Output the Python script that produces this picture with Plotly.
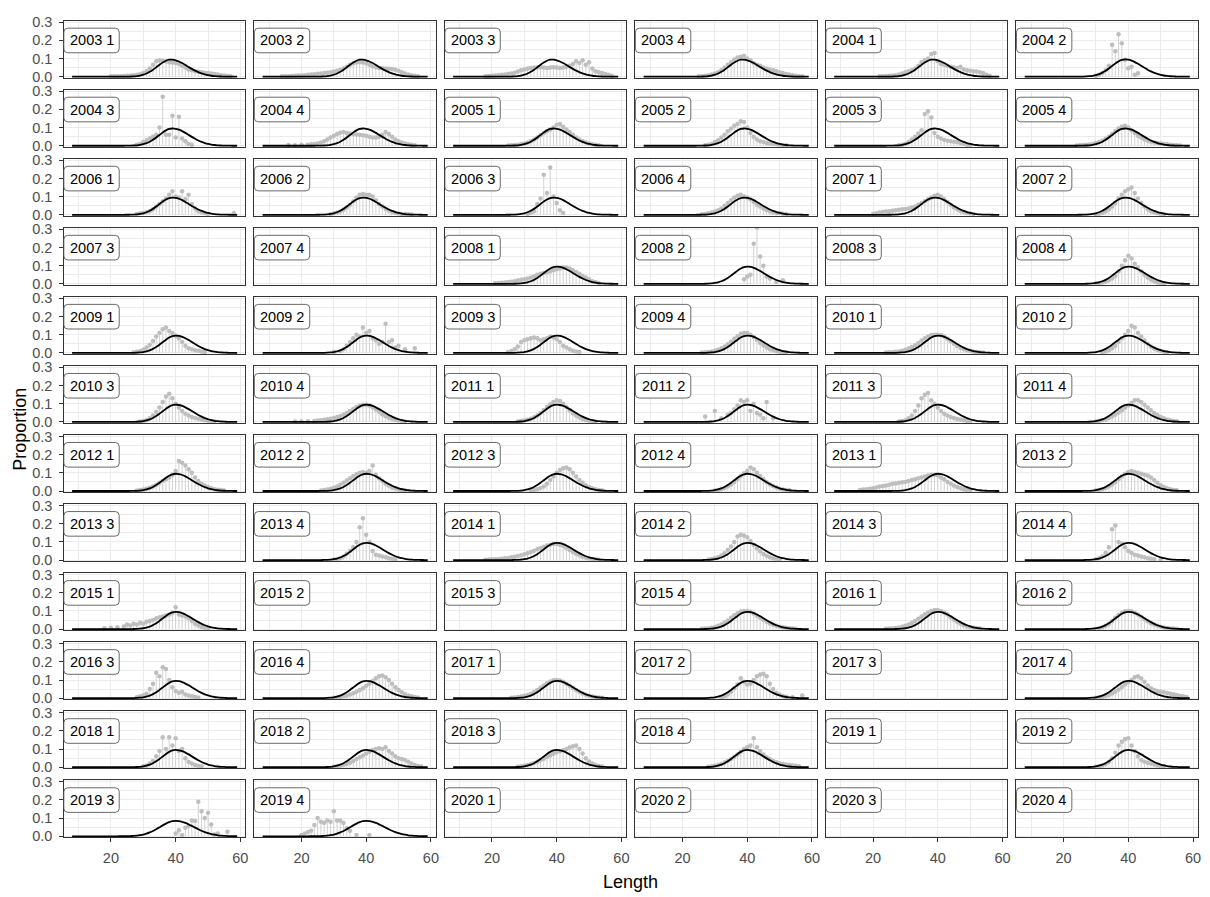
import plotly.graph_objects as go

# ---------------- data ----------------
YEARS = list(range(2003, 2021))
QUARTERS = [1, 2, 3, 4]
PANELS = [f"{y} {q}" for y in YEARS for q in QUARTERS]

X_TICKS = [20, 40, 60]
Y_TICKS = [0.0, 0.1, 0.2, 0.3]
Y_TICK_TEXT = ["0.0", "0.1", "0.2", "0.3"]
X_TITLE = "Length"
Y_TITLE = "Proportion"

# fitted curves, values at lengths 8..59
fit_len = list(range(8, 60))
fit_38 = [0]*16 + [0.0002, 0.0004, 0.0009, 0.0018, 0.0035, 0.0064, 0.011, 0.0176, 0.0268, 0.0382,
                   0.0515, 0.0653, 0.078, 0.0879, 0.0933, 0.0936, 0.0902, 0.0837, 0.075, 0.0647,
                   0.0537, 0.043, 0.0332, 0.0247, 0.0177, 0.0122, 0.0081, 0.0052, 0.0032, 0.0019,
                   0.0011, 0.0006, 0.0003, 0.0002, 0.0001, 0.0]
fit_39 = [0]*16 + [0.0001, 0.0003, 0.0006, 0.0013, 0.0026, 0.0049, 0.0085, 0.0142, 0.0221, 0.0326,
                   0.0452, 0.059, 0.0727, 0.0844, 0.0922, 0.095, 0.0933, 0.0882, 0.0804, 0.0707,
                   0.0598, 0.0488, 0.0384, 0.0291, 0.0212, 0.015, 0.0101, 0.0066, 0.0042, 0.0025,
                   0.0015, 0.0008, 0.0005, 0.0002, 0.0001, 0.0]
fit_40 = [0]*17 + [0.0001, 0.0003, 0.0006, 0.0013, 0.0026, 0.0049, 0.0085, 0.0142, 0.0221, 0.0326,
                   0.0452, 0.059, 0.0727, 0.0844, 0.0922, 0.095, 0.0933, 0.0882, 0.0804, 0.0707,
                   0.0598, 0.0488, 0.0384, 0.0291, 0.0212, 0.015, 0.0101, 0.0066, 0.0042, 0.0025,
                   0.0015, 0.0008, 0.0005, 0.0002, 0.0001]
fit_2019 = [0]*14 + [0.0001, 0.0002, 0.0003, 0.0006, 0.0012, 0.0022, 0.0037, 0.0062, 0.0097, 0.0147,
                     0.0212, 0.0294, 0.0389, 0.0494, 0.0601, 0.0699, 0.0779, 0.0832, 0.085, 0.0837,
                     0.0797, 0.0736, 0.0659, 0.0571, 0.0479, 0.0389, 0.0306, 0.0234, 0.0173, 0.0123,
                     0.0086, 0.0057, 0.0037, 0.0024, 0.0014, 0.0009, 0.0005, 0.0003]

FIT_38_PANELS = ["2003 1", "2003 2", "2003 3", "2003 4", "2004 1"]
FIT_39_PANELS = ["2004 2", "2004 3", "2004 4", "2005 1", "2005 2", "2005 3", "2005 4",
                 "2006 1", "2006 2", "2006 3", "2006 4", "2007 1", "2007 2"]
FIT_2019_PANELS = ["2019 3", "2019 4"]

# observed proportions at length (length: proportion)
obs_2003_1 = {20: 0.002, 21: 0.002, 22: 0.003, 23: 0.003, 24: 0.004, 25: 0.005, 26: 0.006, 27: 0.008, 28: 0.01, 29: 0.014,
              30: 0.02, 31: 0.03, 32: 0.045, 33: 0.065, 34: 0.085, 35: 0.09, 36: 0.088, 37: 0.085, 38: 0.08, 39: 0.078,
              40: 0.075, 41: 0.07, 42: 0.06, 43: 0.05, 44: 0.04, 45: 0.035, 46: 0.03, 47: 0.027, 48: 0.024, 49: 0.022,
              50: 0.02, 51: 0.018, 52: 0.015, 53: 0.012, 54: 0.008, 55: 0.006, 56: 0.004, 57: 0.002}
obs_2003_2 = {14: 0.002, 15: 0.002, 16: 0.003, 17: 0.004, 18: 0.005, 19: 0.006, 20: 0.007, 21: 0.008, 22: 0.01, 23: 0.012,
              24: 0.014, 25: 0.016, 26: 0.018, 27: 0.02, 28: 0.022, 29: 0.025, 30: 0.028, 31: 0.032, 32: 0.038, 33: 0.045,
              34: 0.055, 35: 0.065, 36: 0.072, 37: 0.078, 38: 0.08, 39: 0.078, 40: 0.072, 41: 0.065, 42: 0.058, 43: 0.052,
              44: 0.048, 45: 0.046, 46: 0.045, 47: 0.044, 48: 0.042, 49: 0.038, 50: 0.032, 51: 0.025, 52: 0.018, 53: 0.012,
              54: 0.008, 55: 0.005, 56: 0.003}
obs_2003_3 = {18: 0.003, 19: 0.004, 20: 0.005, 21: 0.006, 22: 0.008, 23: 0.01, 24: 0.012, 25: 0.015, 26: 0.018, 27: 0.022,
              28: 0.028, 29: 0.035, 30: 0.04, 31: 0.045, 32: 0.048, 33: 0.05, 34: 0.05, 35: 0.052, 36: 0.05, 37: 0.048,
              38: 0.05, 39: 0.052, 40: 0.05, 41: 0.048, 42: 0.05, 43: 0.055, 44: 0.06, 45: 0.07, 46: 0.085, 47: 0.075,
              48: 0.09, 49: 0.065, 50: 0.08, 51: 0.045, 52: 0.03, 53: 0.025, 54: 0.02, 55: 0.015, 56: 0.01, 57: 0.005}
obs_2003_4 = {25: 0.002, 26: 0.003, 27: 0.005, 28: 0.008, 29: 0.012, 30: 0.018, 31: 0.025, 32: 0.035, 33: 0.05, 34: 0.065,
              35: 0.08, 36: 0.095, 37: 0.105, 38: 0.11, 39: 0.115, 40: 0.1, 41: 0.09, 42: 0.075, 43: 0.065, 44: 0.06,
              45: 0.05, 46: 0.045, 47: 0.04, 48: 0.035, 49: 0.03, 50: 0.025, 51: 0.02, 52: 0.015, 53: 0.012, 54: 0.008,
              55: 0.005, 56: 0.003, 57: 0.002}
obs_2004_1 = {22: 0.002, 23: 0.003, 24: 0.004, 25: 0.005, 26: 0.006, 27: 0.008, 28: 0.012, 29: 0.018, 30: 0.025, 31: 0.03,
              32: 0.035, 33: 0.045, 34: 0.06, 35: 0.08, 36: 0.09, 37: 0.1, 38: 0.125, 39: 0.13, 40: 0.085, 41: 0.07,
              42: 0.065, 43: 0.06, 44: 0.055, 45: 0.05, 46: 0.048, 47: 0.055, 48: 0.04, 49: 0.035, 50: 0.032, 51: 0.03,
              52: 0.028, 53: 0.025, 54: 0.02, 55: 0.01, 56: 0.005}
obs_2004_2 = {30: 0.005, 31: 0.01, 32: 0.02, 33: 0.035, 34: 0.06, 35: 0.175, 36: 0.14, 37: 0.233, 38: 0.184, 39: 0.093,
              40: 0.046, 41: 0.055, 42: 0.01, 43: 0.019}
obs_2004_3 = {28: 0.005, 29: 0.01, 30: 0.02, 31: 0.03, 32: 0.04, 33: 0.05, 34: 0.06, 35: 0.1, 36: 0.27, 37: 0.06,
              38: 0.06, 39: 0.165, 40: 0.045, 41: 0.16, 42: 0.04, 43: 0.025, 44: 0.01, 45: 0.005}
obs_2004_4 = {16: 0.004, 18: 0.003, 20: 0.005, 22: 0.006, 23: 0.008, 24: 0.01, 25: 0.013, 26: 0.018, 27: 0.025, 28: 0.035,
              29: 0.045, 30: 0.055, 31: 0.065, 32: 0.072, 33: 0.075, 34: 0.07, 35: 0.068, 36: 0.065, 37: 0.062, 38: 0.06,
              39: 0.058, 40: 0.055, 41: 0.05, 42: 0.045, 43: 0.045, 44: 0.05, 45: 0.06, 46: 0.075, 47: 0.065, 48: 0.05,
              49: 0.035, 50: 0.025, 51: 0.018, 52: 0.012, 53: 0.008, 54: 0.005, 55: 0.003}
obs_2005_1 = {25: 0.002, 26: 0.003, 27: 0.004, 28: 0.006, 29: 0.009, 30: 0.013, 31: 0.018, 32: 0.025, 33: 0.035, 34: 0.045,
              35: 0.058, 36: 0.07, 37: 0.08, 38: 0.09, 39: 0.1, 40: 0.115, 41: 0.12, 42: 0.105, 43: 0.09, 44: 0.075,
              45: 0.06, 46: 0.045, 47: 0.035, 48: 0.025, 49: 0.018, 50: 0.012, 51: 0.008, 52: 0.005, 53: 0.003}
obs_2005_2 = {27: 0.003, 28: 0.005, 29: 0.01, 30: 0.02, 31: 0.03, 32: 0.045, 33: 0.06, 34: 0.08, 35: 0.095, 36: 0.11,
              37: 0.12, 38: 0.135, 39: 0.13, 40: 0.1, 41: 0.07, 42: 0.05, 43: 0.035, 44: 0.025, 45: 0.02, 46: 0.015,
              47: 0.012, 48: 0.01, 49: 0.008, 50: 0.006, 51: 0.004, 52: 0.003}
obs_2005_3 = {28: 0.003, 29: 0.005, 30: 0.01, 31: 0.02, 32: 0.035, 33: 0.05, 34: 0.067, 35: 0.085, 36: 0.175, 37: 0.19,
              38: 0.155, 39: 0.07, 40: 0.05, 41: 0.04, 42: 0.032, 43: 0.028, 44: 0.025, 45: 0.022, 46: 0.02, 47: 0.015,
              48: 0.01, 49: 0.006, 50: 0.004}
obs_2005_4 = {24: 0.002, 25: 0.003, 26: 0.004, 27: 0.005, 28: 0.007, 29: 0.01, 30: 0.015, 31: 0.02, 32: 0.028, 33: 0.038,
              34: 0.05, 35: 0.065, 36: 0.08, 37: 0.095, 38: 0.105, 39: 0.11, 40: 0.1, 41: 0.085, 42: 0.07, 43: 0.055,
              44: 0.045, 45: 0.035, 46: 0.028, 47: 0.022, 48: 0.018, 49: 0.015, 50: 0.012, 51: 0.01, 52: 0.008, 53: 0.006,
              54: 0.004, 55: 0.003, 56: 0.002}
obs_2006_1 = {28: 0.005, 29: 0.008, 30: 0.01, 31: 0.015, 32: 0.02, 33: 0.03, 34: 0.045, 35: 0.06, 36: 0.075, 37: 0.09,
              38: 0.11, 39: 0.13, 40: 0.1, 41: 0.095, 42: 0.13, 43: 0.085, 44: 0.11, 45: 0.06, 46: 0.035, 47: 0.02,
              48: 0.012, 49: 0.008, 50: 0.005, 58: 0.008}
obs_2006_2 = {29: 0.003, 30: 0.008, 31: 0.012, 32: 0.018, 33: 0.028, 34: 0.04, 35: 0.055, 36: 0.075, 37: 0.095, 38: 0.11,
              39: 0.115, 40: 0.11, 41: 0.11, 42: 0.1, 43: 0.08, 44: 0.06, 45: 0.045, 46: 0.032, 47: 0.022, 48: 0.015,
              49: 0.01, 50: 0.007, 51: 0.005, 52: 0.004, 53: 0.003, 54: 0.002}
obs_2006_3 = {31: 0.005, 32: 0.01, 33: 0.02, 34: 0.06, 35: 0.09, 36: 0.22, 37: 0.12, 38: 0.26, 39: 0.1, 40: 0.065,
              41: 0.025, 42: 0.01}
obs_2006_4 = {26: 0.003, 27: 0.005, 28: 0.008, 29: 0.012, 30: 0.018, 31: 0.025, 32: 0.035, 33: 0.05, 34: 0.065, 35: 0.08,
              36: 0.095, 37: 0.105, 38: 0.11, 39: 0.1, 40: 0.095, 41: 0.085, 42: 0.07, 43: 0.055, 44: 0.045, 45: 0.035,
              46: 0.025, 47: 0.018, 48: 0.012, 49: 0.008, 50: 0.01, 51: 0.006, 52: 0.004}
obs_2007_1 = {20: 0.005, 21: 0.008, 22: 0.012, 23: 0.015, 24: 0.018, 25: 0.02, 26: 0.022, 27: 0.025, 28: 0.028, 29: 0.03,
              30: 0.032, 31: 0.035, 32: 0.04, 33: 0.045, 34: 0.055, 35: 0.065, 36: 0.075, 37: 0.085, 38: 0.095, 39: 0.105,
              40: 0.11, 41: 0.1, 42: 0.085, 43: 0.07, 44: 0.055, 45: 0.04, 46: 0.03, 47: 0.02, 48: 0.015, 49: 0.01,
              50: 0.007, 51: 0.005}
obs_2007_2 = {30: 0.003, 31: 0.006, 32: 0.01, 33: 0.018, 34: 0.03, 35: 0.045, 36: 0.065, 37: 0.09, 38: 0.11, 39: 0.13,
              40: 0.14, 41: 0.15, 42: 0.12, 43: 0.09, 44: 0.065, 45: 0.045, 46: 0.03, 47: 0.02, 48: 0.012, 49: 0.008,
              50: 0.005, 51: 0.003}
obs_2008_1 = {21: 0.003, 22: 0.005, 23: 0.006, 24: 0.008, 25: 0.01, 26: 0.012, 27: 0.015, 28: 0.018, 29: 0.022, 30: 0.026,
              31: 0.03, 32: 0.035, 33: 0.04, 34: 0.05, 35: 0.055, 36: 0.06, 37: 0.065, 38: 0.07, 39: 0.075, 40: 0.08,
              41: 0.085, 42: 0.09, 43: 0.09, 44: 0.085, 45: 0.075, 46: 0.065, 47: 0.055, 48: 0.045, 49: 0.035, 50: 0.025,
              51: 0.015, 52: 0.01, 53: 0.005}
obs_2008_2 = {39: 0.025, 40: 0.04, 41: 0.05, 42: 0.22, 43: 0.31, 44: 0.15, 45: 0.1, 46: 0.04, 47: 0.03, 49: 0.01,
              51: 0.02}
obs_2008_4 = {30: 0.003, 31: 0.005, 32: 0.008, 33: 0.013, 34: 0.02, 35: 0.03, 36: 0.045, 37: 0.07, 38: 0.1, 39: 0.13,
              40: 0.155, 41: 0.14, 42: 0.11, 43: 0.09, 44: 0.07, 45: 0.05, 46: 0.035, 47: 0.022, 48: 0.014, 49: 0.008,
              50: 0.005, 51: 0.003}
obs_2009_1 = {27: 0.003, 28: 0.006, 29: 0.01, 30: 0.018, 31: 0.03, 32: 0.045, 33: 0.065, 34: 0.09, 35: 0.11, 36: 0.13,
              37: 0.14, 38: 0.12, 39: 0.11, 40: 0.095, 41: 0.08, 42: 0.06, 43: 0.04, 44: 0.025, 45: 0.02, 46: 0.015,
              47: 0.012, 48: 0.008, 49: 0.005}
obs_2009_2 = {30: 0.005, 32: 0.01, 33: 0.02, 34: 0.04, 35: 0.06, 36: 0.08, 37: 0.1, 38: 0.09, 39: 0.14, 40: 0.11,
              41: 0.12, 42: 0.08, 43: 0.07, 44: 0.05, 45: 0.06, 46: 0.16, 47: 0.06, 48: 0.07, 49: 0.03, 50: 0.04,
              52: 0.02, 55: 0.025}
obs_2009_3 = {25: 0.005, 26: 0.01, 27: 0.02, 28: 0.035, 29: 0.06, 30: 0.07, 31: 0.075, 32: 0.08, 33: 0.085, 34: 0.08,
              35: 0.07, 36: 0.075, 37: 0.08, 38: 0.09, 39: 0.085, 40: 0.075, 41: 0.06, 42: 0.04, 43: 0.03, 44: 0.02,
              45: 0.012, 46: 0.008, 47: 0.005}
obs_2009_4 = {26: 0.002, 27: 0.003, 28: 0.005, 29: 0.008, 30: 0.012, 31: 0.018, 32: 0.025, 33: 0.035, 34: 0.048, 35: 0.062,
              36: 0.078, 37: 0.092, 38: 0.105, 39: 0.11, 40: 0.11, 41: 0.1, 42: 0.088, 43: 0.072, 44: 0.056, 45: 0.042,
              46: 0.03, 47: 0.02, 48: 0.014, 49: 0.009, 50: 0.006, 51: 0.004, 52: 0.003}
obs_2010_1 = {24: 0.002, 25: 0.003, 26: 0.004, 27: 0.006, 28: 0.008, 29: 0.012, 30: 0.017, 31: 0.024, 32: 0.032, 33: 0.042,
              34: 0.055, 35: 0.068, 36: 0.08, 37: 0.09, 38: 0.098, 39: 0.1, 40: 0.1, 41: 0.098, 42: 0.09, 43: 0.078,
              44: 0.064, 45: 0.05, 46: 0.038, 47: 0.028, 48: 0.02, 49: 0.014, 50: 0.01, 51: 0.007, 52: 0.005, 53: 0.003,
              54: 0.002}
obs_2010_2 = {32: 0.003, 33: 0.008, 34: 0.015, 35: 0.025, 36: 0.04, 37: 0.06, 38: 0.08, 39: 0.1, 40: 0.12, 41: 0.15,
              42: 0.14, 43: 0.11, 44: 0.09, 45: 0.07, 46: 0.05, 47: 0.035, 48: 0.024, 49: 0.016, 50: 0.01, 51: 0.006,
              52: 0.004}
obs_2010_3 = {29: 0.003, 30: 0.006, 31: 0.01, 32: 0.02, 33: 0.035, 34: 0.055, 35: 0.08, 36: 0.11, 37: 0.14, 38: 0.155,
              39: 0.13, 40: 0.1, 41: 0.08, 42: 0.06, 43: 0.045, 44: 0.035, 45: 0.028, 46: 0.022, 47: 0.018, 48: 0.014,
              49: 0.01, 50: 0.007, 51: 0.005, 52: 0.003}
obs_2010_4 = {18: 0.002, 20: 0.003, 22: 0.004, 24: 0.006, 25: 0.008, 26: 0.01, 27: 0.012, 28: 0.015, 29: 0.018, 30: 0.022,
              31: 0.027, 32: 0.033, 33: 0.04, 34: 0.05, 35: 0.06, 36: 0.072, 37: 0.082, 38: 0.09, 39: 0.095, 40: 0.095,
              41: 0.09, 42: 0.08, 43: 0.068, 44: 0.055, 45: 0.042, 46: 0.032, 47: 0.023, 48: 0.016, 49: 0.011, 50: 0.008,
              51: 0.005, 52: 0.003}
obs_2011_1 = {28: 0.003, 29: 0.005, 30: 0.008, 31: 0.012, 32: 0.018, 33: 0.026, 34: 0.036, 35: 0.05, 36: 0.066, 37: 0.082,
              38: 0.098, 39: 0.11, 40: 0.12, 41: 0.115, 42: 0.1, 43: 0.082, 44: 0.064, 45: 0.048, 46: 0.035, 47: 0.025,
              48: 0.017, 49: 0.011, 50: 0.007, 51: 0.004, 52: 0.002}
obs_2011_2 = {27: 0.03, 30: 0.06, 32: 0.02, 34: 0.04, 35: 0.05, 36: 0.07, 37: 0.09, 38: 0.12, 39: 0.11, 40: 0.12,
              41: 0.06, 42: 0.1, 43: 0.05, 44: 0.04, 45: 0.02, 46: 0.11, 48: 0.02}
obs_2011_3 = {28: 0.003, 29: 0.006, 30: 0.01, 31: 0.02, 32: 0.035, 33: 0.06, 34: 0.09, 35: 0.13, 36: 0.15, 37: 0.16,
              38: 0.12, 39: 0.1, 40: 0.08, 41: 0.06, 42: 0.045, 43: 0.035, 44: 0.028, 45: 0.022, 46: 0.017, 47: 0.013,
              48: 0.009, 49: 0.006, 50: 0.004}
obs_2011_4 = {30: 0.003, 31: 0.006, 32: 0.01, 33: 0.015, 34: 0.022, 35: 0.03, 36: 0.04, 37: 0.052, 38: 0.065, 39: 0.078,
              40: 0.09, 41: 0.105, 42: 0.12, 43: 0.12, 44: 0.11, 45: 0.095, 46: 0.08, 47: 0.065, 48: 0.05, 49: 0.038,
              50: 0.028, 51: 0.02, 52: 0.014, 53: 0.01, 54: 0.006, 55: 0.004}
obs_2012_1 = {28: 0.003, 29: 0.005, 30: 0.008, 31: 0.012, 32: 0.018, 33: 0.025, 34: 0.035, 35: 0.045, 36: 0.055, 37: 0.065,
              38: 0.075, 39: 0.09, 40: 0.11, 41: 0.165, 42: 0.155, 43: 0.14, 44: 0.12, 45: 0.1, 46: 0.075, 47: 0.055,
              48: 0.04, 49: 0.03, 50: 0.022, 51: 0.015, 52: 0.01, 53: 0.007, 54: 0.005, 55: 0.003}
obs_2012_2 = {26: 0.003, 27: 0.005, 28: 0.008, 29: 0.012, 30: 0.018, 31: 0.025, 32: 0.035, 33: 0.045, 34: 0.058, 35: 0.07,
              36: 0.082, 37: 0.092, 38: 0.1, 39: 0.105, 40: 0.1, 41: 0.11, 42: 0.14, 43: 0.09, 44: 0.07, 45: 0.055,
              46: 0.04, 47: 0.03, 48: 0.02, 49: 0.014, 50: 0.009, 51: 0.006, 52: 0.004}
obs_2012_3 = {32: 0.003, 33: 0.006, 34: 0.01, 35: 0.016, 36: 0.025, 37: 0.04, 38: 0.06, 39: 0.08, 40: 0.1, 41: 0.115,
              42: 0.125, 43: 0.13, 44: 0.12, 45: 0.1, 46: 0.08, 47: 0.06, 48: 0.045, 49: 0.032, 50: 0.022, 51: 0.015,
              52: 0.01, 53: 0.006, 54: 0.004}
obs_2012_4 = {30: 0.003, 31: 0.006, 32: 0.01, 33: 0.016, 34: 0.025, 35: 0.036, 36: 0.05, 37: 0.066, 38: 0.082, 39: 0.098,
              40: 0.11, 41: 0.13, 42: 0.12, 43: 0.1, 44: 0.082, 45: 0.065, 46: 0.05, 47: 0.037, 48: 0.027, 49: 0.019,
              50: 0.013, 51: 0.009, 52: 0.006, 53: 0.004}
obs_2013_1 = {16: 0.005, 17: 0.008, 18: 0.01, 19: 0.012, 20: 0.015, 21: 0.02, 22: 0.025, 23: 0.028, 24: 0.03, 25: 0.035,
              26: 0.04, 27: 0.042, 28: 0.045, 29: 0.048, 30: 0.05, 31: 0.055, 32: 0.06, 33: 0.065, 34: 0.07, 35: 0.075,
              36: 0.08, 37: 0.085, 38: 0.09, 39: 0.09, 40: 0.085, 41: 0.075, 42: 0.065, 43: 0.05, 44: 0.04, 45: 0.03,
              46: 0.022, 47: 0.015, 48: 0.01, 49: 0.006, 50: 0.004}
obs_2013_2 = {30: 0.003, 31: 0.006, 32: 0.01, 33: 0.016, 34: 0.025, 35: 0.036, 36: 0.05, 37: 0.065, 38: 0.08, 39: 0.095,
              40: 0.105, 41: 0.11, 42: 0.105, 43: 0.1, 44: 0.095, 45: 0.09, 46: 0.085, 47: 0.075, 48: 0.06, 49: 0.045,
              50: 0.032, 51: 0.022, 52: 0.015, 53: 0.01, 54: 0.006, 55: 0.004}
obs_2013_4 = {30: 0.003, 31: 0.005, 32: 0.01, 33: 0.02, 34: 0.035, 35: 0.05, 36: 0.07, 37: 0.1, 38: 0.18, 39: 0.23,
              40: 0.14, 41: 0.1, 42: 0.05, 43: 0.03, 44: 0.025, 45: 0.02, 46: 0.015, 47: 0.01, 48: 0.007, 49: 0.005}
obs_2014_1 = {18: 0.002, 19: 0.003, 20: 0.004, 21: 0.005, 22: 0.006, 23: 0.008, 24: 0.01, 25: 0.012, 26: 0.015, 27: 0.018,
              28: 0.022, 29: 0.027, 30: 0.032, 31: 0.038, 32: 0.045, 33: 0.052, 34: 0.06, 35: 0.067, 36: 0.074, 37: 0.08,
              38: 0.085, 39: 0.088, 40: 0.088, 41: 0.085, 42: 0.078, 43: 0.068, 44: 0.056, 45: 0.045, 46: 0.035, 47: 0.026,
              48: 0.019, 49: 0.013, 50: 0.009, 51: 0.006, 52: 0.004, 53: 0.002}
obs_2014_2 = {28: 0.003, 29: 0.006, 30: 0.01, 31: 0.016, 32: 0.025, 33: 0.038, 34: 0.055, 35: 0.075, 36: 0.1, 37: 0.13,
              38: 0.14, 39: 0.135, 40: 0.125, 41: 0.105, 42: 0.085, 43: 0.065, 44: 0.048, 45: 0.034, 46: 0.024, 47: 0.016,
              48: 0.01, 49: 0.006, 50: 0.004}
obs_2014_4 = {30: 0.005, 31: 0.01, 32: 0.02, 33: 0.04, 34: 0.07, 35: 0.17, 36: 0.19, 37: 0.1, 38: 0.09, 39: 0.07,
              40: 0.05, 41: 0.04, 42: 0.03, 43: 0.025, 44: 0.02, 45: 0.015, 46: 0.01, 47: 0.008, 48: 0.005, 50: 0.004}
obs_2015_1 = {18: 0.005, 20: 0.008, 22: 0.01, 24: 0.015, 25: 0.025, 26: 0.02, 27: 0.03, 28: 0.025, 29: 0.035, 30: 0.03,
              31: 0.04, 32: 0.045, 33: 0.05, 34: 0.06, 35: 0.065, 36: 0.07, 37: 0.075, 38: 0.08, 39: 0.09, 40: 0.12,
              41: 0.08, 42: 0.075, 43: 0.07, 44: 0.06, 45: 0.045, 46: 0.03, 47: 0.02, 48: 0.012, 49: 0.008, 50: 0.005}
obs_2015_4 = {26: 0.002, 27: 0.003, 28: 0.005, 29: 0.008, 30: 0.012, 31: 0.018, 32: 0.026, 33: 0.036, 34: 0.048, 35: 0.062,
              36: 0.076, 37: 0.088, 38: 0.097, 39: 0.1, 40: 0.1, 41: 0.095, 42: 0.086, 43: 0.074, 44: 0.062, 45: 0.05,
              46: 0.04, 47: 0.031, 48: 0.024, 49: 0.018, 50: 0.013, 51: 0.01, 52: 0.007, 53: 0.005, 54: 0.003, 55: 0.002}
obs_2016_1 = {24: 0.002, 25: 0.003, 26: 0.004, 27: 0.006, 28: 0.009, 29: 0.013, 30: 0.018, 31: 0.025, 32: 0.034, 33: 0.045,
              34: 0.057, 35: 0.07, 36: 0.082, 37: 0.092, 38: 0.1, 39: 0.105, 40: 0.105, 41: 0.1, 42: 0.092, 43: 0.08,
              44: 0.066, 45: 0.052, 46: 0.04, 47: 0.03, 48: 0.021, 49: 0.015, 50: 0.01, 51: 0.007, 52: 0.005, 53: 0.003}
obs_2016_2 = {31: 0.004, 32: 0.01, 33: 0.018, 34: 0.03, 35: 0.045, 36: 0.062, 37: 0.078, 38: 0.09, 39: 0.098, 40: 0.1,
              41: 0.098, 42: 0.09, 43: 0.08, 44: 0.068, 45: 0.055, 46: 0.043, 47: 0.033, 48: 0.025, 49: 0.018, 50: 0.013,
              51: 0.009, 52: 0.006, 53: 0.004, 54: 0.003, 55: 0.002}
obs_2016_3 = {28: 0.005, 29: 0.01, 30: 0.015, 31: 0.025, 32: 0.05, 33: 0.08, 34: 0.14, 35: 0.12, 36: 0.17, 37: 0.16,
              38: 0.1, 39: 0.06, 40: 0.04, 41: 0.03, 42: 0.035, 43: 0.02, 44: 0.015, 45: 0.01, 46: 0.006, 47: 0.004}
obs_2016_4 = {30: 0.002, 31: 0.004, 32: 0.006, 33: 0.01, 34: 0.015, 35: 0.02, 36: 0.027, 37: 0.035, 38: 0.045, 39: 0.055,
              40: 0.068, 41: 0.08, 42: 0.095, 43: 0.11, 44: 0.12, 45: 0.125, 46: 0.115, 47: 0.1, 48: 0.08, 49: 0.06,
              50: 0.045, 51: 0.032, 52: 0.022, 53: 0.015, 54: 0.01, 55: 0.006, 56: 0.004}
obs_2017_1 = {26: 0.002, 27: 0.004, 28: 0.006, 29: 0.009, 30: 0.013, 31: 0.018, 32: 0.025, 33: 0.034, 34: 0.045, 35: 0.057,
              36: 0.07, 37: 0.082, 38: 0.092, 39: 0.098, 40: 0.1, 41: 0.097, 42: 0.09, 43: 0.08, 44: 0.068, 45: 0.056,
              46: 0.045, 47: 0.035, 48: 0.026, 49: 0.019, 50: 0.013, 51: 0.009, 52: 0.006, 53: 0.004, 54: 0.002}
obs_2017_2 = {32: 0.005, 33: 0.01, 34: 0.02, 35: 0.035, 36: 0.055, 37: 0.075, 38: 0.11, 39: 0.09, 40: 0.075, 41: 0.08,
              42: 0.1, 43: 0.12, 44: 0.13, 45: 0.135, 46: 0.12, 47: 0.08, 48: 0.05, 49: 0.03, 50: 0.02, 51: 0.012,
              52: 0.008, 54: 0.005, 57: 0.015}
obs_2017_4 = {30: 0.003, 31: 0.005, 32: 0.008, 33: 0.012, 34: 0.018, 35: 0.026, 36: 0.036, 37: 0.048, 38: 0.062, 39: 0.075,
              40: 0.088, 41: 0.1, 42: 0.115, 43: 0.12, 44: 0.11, 45: 0.09, 46: 0.07, 47: 0.055, 48: 0.045, 49: 0.04,
              50: 0.035, 51: 0.032, 52: 0.028, 53: 0.025, 54: 0.022, 55: 0.018, 56: 0.014, 57: 0.01, 58: 0.006}
obs_2018_1 = {30: 0.005, 31: 0.01, 32: 0.02, 33: 0.035, 34: 0.06, 35: 0.09, 36: 0.165, 37: 0.1, 38: 0.165, 39: 0.12,
              40: 0.16, 41: 0.09, 42: 0.1, 43: 0.05, 44: 0.03, 45: 0.02, 46: 0.012, 47: 0.008, 48: 0.005}
obs_2018_2 = {30: 0.003, 31: 0.005, 32: 0.008, 33: 0.012, 34: 0.018, 35: 0.025, 36: 0.035, 37: 0.045, 38: 0.055, 39: 0.065,
              40: 0.075, 41: 0.085, 42: 0.095, 43: 0.1, 44: 0.105, 45: 0.1, 46: 0.11, 47: 0.09, 48: 0.075, 49: 0.06,
              50: 0.05, 51: 0.045, 52: 0.04, 53: 0.03, 54: 0.02, 55: 0.012, 56: 0.007, 57: 0.004}
obs_2018_3 = {28: 0.003, 29: 0.005, 30: 0.008, 31: 0.012, 32: 0.017, 33: 0.023, 34: 0.03, 35: 0.038, 36: 0.047, 37: 0.056,
              38: 0.065, 39: 0.074, 40: 0.082, 41: 0.088, 42: 0.094, 43: 0.1, 44: 0.108, 45: 0.115, 46: 0.12, 47: 0.1,
              48: 0.075, 49: 0.05, 50: 0.032, 51: 0.02, 52: 0.012, 53: 0.007, 54: 0.004}
obs_2018_4 = {28: 0.003, 29: 0.005, 30: 0.008, 31: 0.012, 32: 0.018, 33: 0.026, 34: 0.035, 35: 0.045, 36: 0.058, 37: 0.07,
              38: 0.085, 39: 0.1, 40: 0.11, 41: 0.12, 42: 0.16, 43: 0.11, 44: 0.09, 45: 0.07, 46: 0.055, 47: 0.045,
              48: 0.035, 49: 0.028, 50: 0.022, 51: 0.018, 52: 0.015, 53: 0.012, 54: 0.01, 55: 0.008, 56: 0.005}
obs_2019_2 = {30: 0.003, 31: 0.006, 32: 0.01, 33: 0.018, 34: 0.03, 35: 0.05, 36: 0.08, 37: 0.12, 38: 0.14, 39: 0.155,
              40: 0.16, 41: 0.12, 42: 0.09, 43: 0.06, 44: 0.04, 45: 0.03, 46: 0.025, 47: 0.02, 48: 0.015, 49: 0.01,
              50: 0.006, 51: 0.004}
obs_2019_3 = {40: 0.015, 41: 0.033, 42: 0.007, 43: 0.047, 44: 0.056, 45: 0.087, 46: 0.084, 47: 0.19, 48: 0.138, 49: 0.1,
              50: 0.13, 51: 0.065, 52: 0.01, 53: 0.015, 56: 0.025}
obs_2019_4 = {20: 0.007, 21: 0.016, 22: 0.024, 23: 0.03, 24: 0.062, 25: 0.1, 26: 0.08, 27: 0.075, 28: 0.087, 29: 0.08,
              30: 0.138, 31: 0.087, 32: 0.087, 33: 0.073, 34: 0.044, 35: 0.03, 37: 0.007, 41: 0.007}

# ---------------- layout constants (pixels) ----------------
W, H = 1210, 897
NCOL = 6
LEFT0, COL_STEP, PANEL_W = 64, 191, 182
TOP0, ROW_STEP, PANEL_H = 14, 70.15, 58
X_RANGE = [5.45, 61.55]
Y_RANGE = [-0.0065, 0.3075]

FONT = "Liberation Sans, Arial, Helvetica, sans-serif"
TICK_COLOR = "#4d4d4d"
GRID = "#ebebeb"
BORDER = "#333333"
PT_COLOR = "#bebebe"
STEM_COLOR = "#d2d2d2"

NROW = len(PANELS) // NCOL


def px_x(px):
    return px / W


def px_y(py):
    return 1 - py / H


fig = go.Figure()
layout = {}
shapes = []
annotations = []

for idx, label in enumerate(PANELS):
    r, c = divmod(idx, NCOL)
    n = idx + 1
    xname = "x" if n == 1 else f"x{n}"
    yname = "y" if n == 1 else f"y{n}"
    left = LEFT0 + c * COL_STEP
    top = TOP0 + r * ROW_STEP
    bottom_row = (r == NROW - 1)
    first_col = (c == 0)

    layout["xaxis" if n == 1 else f"xaxis{n}"] = dict(
        domain=[px_x(left), px_x(left + PANEL_W)], anchor=yname, range=X_RANGE,
        tickvals=X_TICKS, showticklabels=bottom_row, ticks="outside" if bottom_row else "",
        ticklen=3.6, tickwidth=1, tickcolor=BORDER, ticklabelstandoff=4,
        tickfont=dict(family=FONT, size=14.5, color=TICK_COLOR),
        showgrid=True, gridcolor=GRID, gridwidth=1, zeroline=False,
        minor=dict(dtick=10, tick0=0, showgrid=True, gridcolor=GRID, gridwidth=0.5, ticks=""),
        showline=True, mirror=True, linecolor=BORDER, linewidth=0.8, fixedrange=True,
    )
    layout["yaxis" if n == 1 else f"yaxis{n}"] = dict(
        domain=[px_y(top + PANEL_H), px_y(top)], anchor=xname, range=Y_RANGE,
        tickvals=Y_TICKS, ticktext=Y_TICK_TEXT, showticklabels=first_col,
        ticks="outside" if first_col else "", ticklen=3.6, tickwidth=1, tickcolor=BORDER,
        ticklabelstandoff=4,
        tickfont=dict(family=FONT, size=14.5, color=TICK_COLOR),
        showgrid=True, gridcolor=GRID, gridwidth=1, zeroline=False,
        minor=dict(dtick=0.05, tick0=0, showgrid=True, gridcolor=GRID, gridwidth=0.5, ticks=""),
        showline=True, mirror=True, linecolor=BORDER, linewidth=0.8, fixedrange=True,
    )

    # invisible anchor trace so that every panel's axes are drawn
    fig.add_trace(go.Scatter(x=[30], y=[0.1], mode="markers", xaxis=xname, yaxis=yname,
                             marker=dict(opacity=0), hoverinfo="skip", showlegend=False))

    obs = globals().get("obs_" + label.replace(" ", "_"))
    if obs:
        lens = list(obs.keys())
        vals = list(obs.values())
        sx, sy = [], []
        for L, v in zip(lens, vals):
            sx += [L, L, None]
            sy += [0, v, None]
        fig.add_trace(go.Scatter(x=sx, y=sy, mode="lines", xaxis=xname, yaxis=yname,
                                 line=dict(color=STEM_COLOR, width=1), hoverinfo="skip",
                                 showlegend=False))
        fig.add_trace(go.Scatter(x=lens, y=vals, mode="markers", xaxis=xname, yaxis=yname,
                                 marker=dict(color=PT_COLOR, size=4.5), showlegend=False))
        if label in FIT_38_PANELS:
            fit = fit_38
        elif label in FIT_39_PANELS:
            fit = fit_39
        elif label in FIT_2019_PANELS:
            fit = fit_2019
        else:
            fit = fit_40
        fig.add_trace(go.Scatter(x=fit_len, y=fit, mode="lines", xaxis=xname, yaxis=yname,
                                 line=dict(color="black", width=1.8, shape="spline", smoothing=0.6),
                                 showlegend=False))

    # label box (rounded rectangle)
    bx0, bx1 = left, left + 55.5
    by0, by1 = top + 7.5, top + 32.5
    rr = 4
    path = (f"M {px_x(bx0 + rr)},{px_y(by0)} L {px_x(bx1 - rr)},{px_y(by0)} "
            f"Q {px_x(bx1)},{px_y(by0)} {px_x(bx1)},{px_y(by0 + rr)} "
            f"L {px_x(bx1)},{px_y(by1 - rr)} Q {px_x(bx1)},{px_y(by1)} {px_x(bx1 - rr)},{px_y(by1)} "
            f"L {px_x(bx0 + rr)},{px_y(by1)} Q {px_x(bx0)},{px_y(by1)} {px_x(bx0)},{px_y(by1 - rr)} "
            f"L {px_x(bx0)},{px_y(by0 + rr)} Q {px_x(bx0)},{px_y(by0)} {px_x(bx0 + rr)},{px_y(by0)} Z")
    shapes.append(dict(type="path", path=path, xref="paper", yref="paper",
                       fillcolor="white", line=dict(color="#444444", width=0.8), layer="above"))
    annotations.append(dict(text=label, x=px_x((bx0 + bx1) / 2), y=px_y((by0 + by1) / 2),
                            xref="paper", yref="paper", xanchor="center", yanchor="middle",
                            showarrow=False, font=dict(family=FONT, size=14.5, color="black")))

annotations.append(dict(text=X_TITLE, x=px_x(632.5), y=px_y(889), xref="paper", yref="paper",
                        xanchor="center", yanchor="middle", showarrow=False,
                        font=dict(family=FONT, size=18, color="black")))
annotations.append(dict(text=Y_TITLE, x=px_x(20), y=px_y(428.5), xref="paper", yref="paper",
                        xanchor="center", yanchor="middle", showarrow=False, textangle=-90,
                        font=dict(family=FONT, size=18, color="black")))

fig.update_layout(**layout)
fig.update_layout(width=W, height=H, margin=dict(l=0, r=0, t=0, b=0),
                  paper_bgcolor="white", plot_bgcolor="white",
                  shapes=shapes, annotations=annotations, showlegend=False)

fig.write_html("out.html")
